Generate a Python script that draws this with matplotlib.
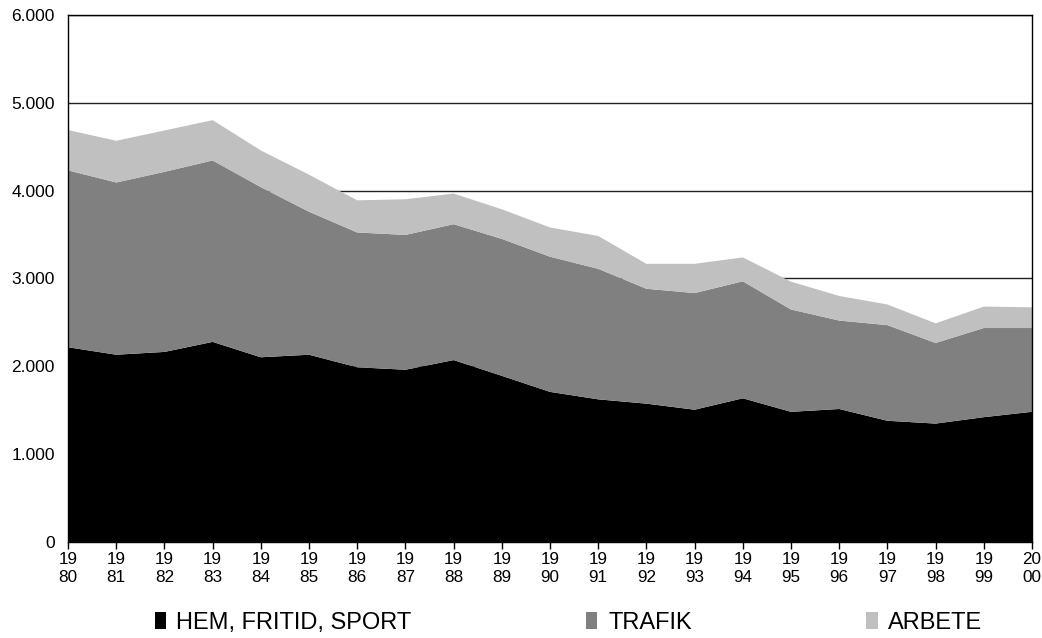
import matplotlib.pyplot as plt
from matplotlib.ticker import FuncFormatter

plt.rcParams['font.family'] = ['Liberation Sans', 'DejaVu Sans']

years = list(range(1980, 2001))
hem = [2217, 2132, 2164, 2278, 2103, 2132, 1989, 1961, 2071, 1892, 1709,
       1624, 1575, 1506, 1636, 1482, 1514, 1380, 1348, 1421, 1482]
trafik = [2014, 1961, 2050, 2066, 1937, 1628, 1535, 1535, 1547, 1559, 1539,
          1486, 1308, 1328, 1332, 1165, 1007, 1089, 918, 1015, 954]
arbete = [459, 475, 471, 459, 418, 422, 366, 406, 349, 337, 333,
          374, 284, 333, 272, 317, 280, 235, 223, 244, 236]
labels = ['HEM, FRITID, SPORT', 'TRAFIK', 'ARBETE']
colors = ['#000000', '#808080', '#c0c0c0']
tick_labels = [str(y)[:2] + '\n' + str(y)[2:] for y in years]

fig = plt.figure(figsize=(10.42, 6.38), dpi=100)
ax = fig.add_axes([0.0653, 0.1505, 0.9251, 0.826])

ax.stackplot(years, hem, trafik, arbete, colors=colors, labels=labels,
             linewidth=0, zorder=2)

ax.set_xlim(1980, 2000)
ax.set_ylim(0, 6000)
ax.set_yticks(range(0, 6001, 1000))
ax.yaxis.set_major_formatter(FuncFormatter(
    lambda v, p: '0' if v == 0 else '{:,.0f}'.format(v).replace(',', '.')))
ax.set_xticks(years)
ax.set_xticklabels(tick_labels, linespacing=1.3)
ax.tick_params(axis='x', length=5, width=1, direction='out', labelsize=12.3, pad=2)
ax.tick_params(axis='y', length=0, labelsize=12.5, pad=9.5)
ax.grid(axis='y', color='#222222', linewidth=1)
ax.set_axisbelow(True)
for s in ax.spines.values():
    s.set_color('black')
    s.set_linewidth(1)
    s.set_zorder(3)

fig.legend(loc='center', bbox_to_anchor=(0.5456, 0.024), ncol=3, frameon=False,
           fontsize=17, handlelength=0.47, handleheight=0.72,
           handletextpad=0.45, columnspacing=7.4, borderpad=0)

fig.savefig('out.png', dpi=100)
